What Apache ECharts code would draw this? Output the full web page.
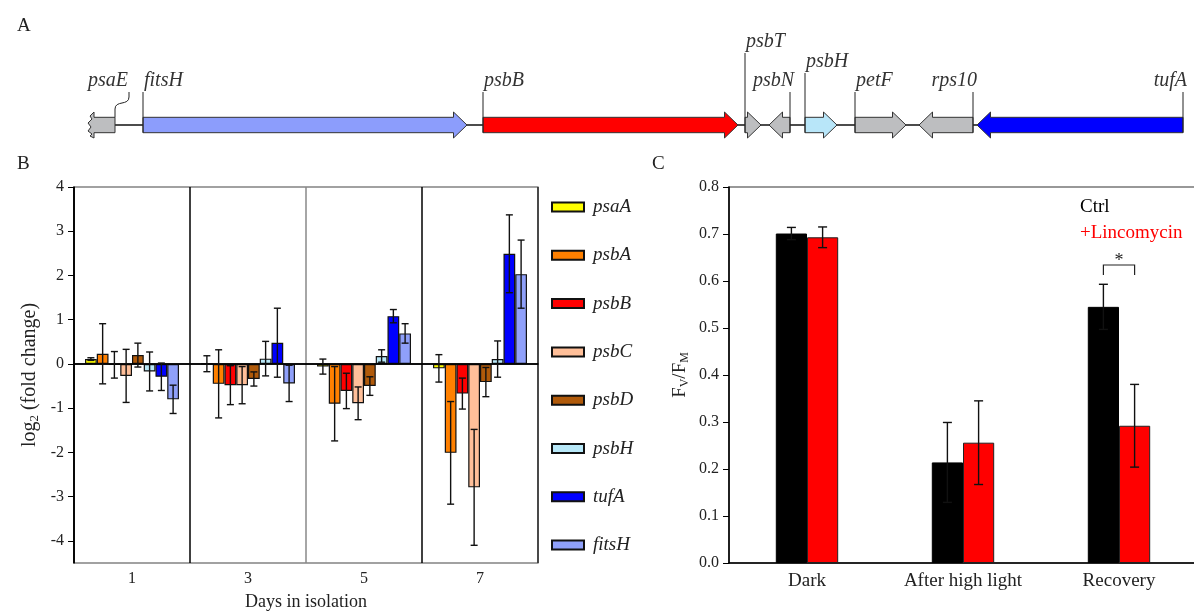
<!DOCTYPE html>
<html><head><meta charset="utf-8">
<script src="https://cdn.jsdelivr.net/npm/echarts@6/dist/echarts.min.js"></script>
<style>html,body{margin:0;padding:0;background:#fff;}#c{width:1194px;height:611px;}</style>
</head><body><div id="c"></div>
<script>
// ---------- Panel A: gene map (arbitrary map units) ----------
const geneNames  = ['psaE','fitsH','psbB','psbT','psbN','psbH','petF','rps10','tufA'];
const geneLeft   = [88, 143, 483, 745, 769, 805, 855, 919, 977];
const geneRight  = [115, 467, 738, 761, 790, 837, 906, 973, 1183];
const geneStrand = [-1, 1, 1, 1, -1, 1, 1, -1, -1];
const truncatedGenes = ['psaE'];

// ---------- Panel B: log2 fold change ----------
const days = ['1','3','5','7'];
const genesB = ['psaA','psbA','psbB','psbC','psbD','psbH','tufA','fitsH'];
const psaA  = [0.11, 0.005, -0.06, -0.10];  const psaA_err  = [0.03, 0.18, 0.17, 0.31];
const psbA  = [0.23, -0.45, -0.90, -2.01];  const psbA_err  = [0.68, 0.77, 0.84, 1.16];
const psbB  = [-0.02, -0.48, -0.61, -0.67]; const psbB_err  = [0.30, 0.44, 0.40, 0.35];
const psbC  = [-0.27, -0.48, -0.89, -2.79]; const psbC_err  = [0.60, 0.42, 0.37, 1.31];
const psbD  = [0.20, -0.34, -0.50, -0.41];  const psbD_err  = [0.27, 0.16, 0.21, 0.33];
const psbH  = [-0.17, 0.12, 0.18, 0.11];    const psbH_err  = [0.44, 0.39, 0.14, 0.41];
const tufA  = [-0.29, 0.48, 1.08, 2.49];    const tufA_err  = [0.31, 0.78, 0.15, 0.88];
const fitsH = [-0.80, -0.44, 0.69, 2.03];   const fitsH_err = [0.32, 0.41, 0.22, 0.77];
const yTicksB = [-4,-3,-2,-1,0,1,2,3,4];

// ---------- Panel C: Fv/Fm ----------
const conditions = ['Dark','After high light','Recovery'];
const ctrl = [0.701, 0.214, 0.545];  const ctrlErr = [0.013, 0.085, 0.048];
const linco = [0.693, 0.256, 0.292]; const lincoErr = [0.022, 0.089, 0.088];
const sigCategory = 2; const sigLevel = 0.634; const sigLabel = '*';

// ---------- styles ----------
const FF = '"Liberation Serif","Times New Roman",serif';
const geneColors = {psaE:'#bdbec0', fitsH:'#8c9dfc', psbB:'#ff0000', psbT:'#bdbec0', psbN:'#bdbec0',
  psbH:'#b8e6f9', petF:'#bdbec0', rps10:'#bdbec0', tufA:'#0000ff'};
const geneLabelRow = {psbT:2, psbH:1};
const colorsB = {psaA:'#ffff00', psbA:'#ff8000', psbB:'#ff0000', psbC:'#ffbf99', psbD:'#b05a0a',
  psbH:'#b8e8f8', tufA:'#0000ff', fitsH:'#8fa0fa'};
const valsB = [psaA, psbA, psbB, psbC, psbD, psbH, tufA, fitsH];
const errsB = [psaA_err, psbA_err, psbB_err, psbC_err, psbD_err, psbH_err, tufA_err, fitsH_err];

const chart = echarts.init(document.getElementById('c'));

function renderGene(params, api) {
  const i = api.value(4);
  const name = geneNames[i];
  const x0 = api.coord([api.value(0), 0])[0];
  const x1 = api.coord([api.value(2), 0])[0];
  const y = api.coord([api.value(0), 0])[1];
  const strand = api.value(3);
  const b = 7.7, h = 13, hl = 13.5;
  let pts;
  const trunc = truncatedGenes.indexOf(name) >= 0;
  if (trunc) {
    const xw = x0 + 6;
    pts = [[x1,y-b],[xw,y-b],[xw,y-h],[xw-4,y-h+4],[xw-2,y-6],[xw-6,y-2],[xw-3,y+2],[xw-6,y+6],[xw-2,y+9],[xw-4,y+h-2],[xw,y+h],[xw,y+b],[x1,y+b]];
  } else if (strand > 0) {
    const xh = Math.max(x0, x1 - hl);
    pts = [[x0,y-b],[xh,y-b],[xh,y-h],[x1,y],[xh,y+h],[xh,y+b],[x0,y+b]];
  } else {
    const xh = Math.min(x1, x0 + hl);
    pts = [[x1,y-b],[xh,y-b],[xh,y-h],[x0,y],[xh,y+h],[xh,y+b],[x1,y+b]];
  }
  const row = geneLabelRow[name] || 0;
  const ly = y - [45, 64, 84][row];
  const children = [{type:'polygon', shape:{points:pts}, style:{fill:geneColors[name], stroke:'#333', lineWidth:1}}];
  let ax, align;
  if (trunc) {
    ax = x1 + 14; align = 'right';
    const t = ly + 12;
    children.push({type:'path', shape:{pathData:
      'M'+ax+' '+t+' L'+ax+' '+(t+5)+' C'+ax+' '+(t+14)+' '+x1+' '+(t+8)+' '+x1+' '+(t+17)+' L'+x1+' '+(y-b)},
      style:{fill:null, stroke:'#222', lineWidth:1}});
  } else {
    ax = strand > 0 ? x0 : x1; align = strand > 0 ? 'left' : 'right';
    children.push({type:'line', shape:{x1:ax, y1:ly+12, x2:ax, y2:y+b}, style:{stroke:'#222', lineWidth:1}});
  }
  children.push({type:'text', style:{text:name, x: align==='left'? ax+1 : (trunc ? ax-1 : ax+4), y:ly+1, textAlign:align, textVerticalAlign:'middle',
    font:'italic 20px "Liberation Serif"', fill:'#333'}});
  return {type:'group', children};
}

function errGroup(cx, top, bot, cw) {
  const st = {stroke:'#111', lineWidth:1.4};
  return {type:'group', children:[
    {type:'line', shape:{x1:cx, y1:top, x2:cx, y2:bot}, style:st},
    {type:'line', shape:{x1:cx-cw, y1:top, x2:cx+cw, y2:top}, style:st},
    {type:'line', shape:{x1:cx-cw, y1:bot, x2:cx+cw, y2:bot}, style:st}]};
}
function renderErrB(params, api) {
  const band = api.size([1,0])[0];
  const bw = band * 0.81 / 8;
  const c = api.coord([api.value(0), api.value(1)]);
  const cx = c[0] + (-4 + api.value(3) + 0.5) * bw;
  const top = api.coord([api.value(0), api.value(1) + api.value(2)])[1];
  const bot = api.coord([api.value(0), api.value(1) - api.value(2)])[1];
  return errGroup(cx, top, bot, 3.5);
}
function renderErrC(params, api) {
  const band = api.size([1,0])[0];
  const bw = band * 0.2;
  const c = api.coord([api.value(0), api.value(1)]);
  const cx = c[0] + (api.value(3) - 0.5) * bw;
  const top = api.coord([api.value(0), api.value(1) + api.value(2)])[1];
  const bot = api.coord([api.value(0), api.value(1) - api.value(2)])[1];
  return errGroup(cx, top, bot, 4.5);
}
function renderSig(params, api) {
  const band = api.size([1,0])[0];
  const bw = band * 0.2;
  const c = api.coord([api.value(0), api.value(1)]);
  const xa = c[0] - bw/2, xb = c[0] + bw/2, y = c[1];
  const st = {stroke:'#222', lineWidth:1.2, fill:null};
  return {type:'group', children:[
    {type:'polyline', shape:{points:[[xa,y+10],[xa,y],[xb,y],[xb,y+10]]}, style:st},
    {type:'text', style:{text:sigLabel, x:c[0], y:y-13, textAlign:'center', textVerticalAlign:'top',
      font:'18px "Liberation Serif"', fill:'#222'}}]};
}

const geneData = geneNames.map((n,i) => [geneLeft[i], 0, geneRight[i], geneStrand[i], i]);
const bbStart = Math.min(...geneRight), bbEnd = Math.max(...geneLeft);
const errDataB = [];
genesB.forEach((g,i) => days.forEach((d,j) => errDataB.push([j, valsB[i][j], errsB[i][j], i])));
const errDataC = [];
conditions.forEach((c,j) => { errDataC.push([j, ctrl[j], ctrlErr[j], 0]); errDataC.push([j, linco[j], lincoErr[j], 1]); });

const barSeriesB = genesB.map((g,i) => ({
  name:g, type:'bar', xAxisIndex:1, yAxisIndex:1, data:valsB[i], barGap:'0%', barCategoryGap:'19%',
  itemStyle:{color:colorsB[g], borderColor:'#111', borderWidth:1.2},
  markLine: i===0 ? {silent:true, symbol:'none', label:{show:false}, lineStyle:{color:'#000', width:1.5, type:'solid'}, data:[{yAxis:0}]} : undefined
}));

const txt = {fontFamily:FF, color:'#222'};
const option = {
  animation:false,
  title:[
    {text:'A', left:12, top:12, textStyle:{fontFamily:FF, fontSize:19, fontWeight:'normal', color:'#222'}},
    {text:'B', left:12, top:150, textStyle:{fontFamily:FF, fontSize:19, fontWeight:'normal', color:'#222'}},
    {text:'C', left:647, top:150, textStyle:{fontFamily:FF, fontSize:19, fontWeight:'normal', color:'#222'}}
  ],
  legend:[
    {data:genesB, orient:'vertical', left:546, top:192, itemWidth:32, itemHeight:9, itemGap:28.3, icon:'rect',
     selectedMode:false, textStyle:{fontFamily:FF, fontStyle:'italic', fontSize:19, color:'#222', lineHeight:20, padding:[0,0,0,4]}},
    {data:[{name:'Ctrl', textStyle:{color:'#000'}}, {name:'+Lincomycin', textStyle:{color:'#ff0000'}}],
     orient:'vertical', left:1070, top:192, icon:'none', itemWidth:0, itemHeight:10, itemGap:6, selectedMode:false,
     textStyle:{fontFamily:FF, fontSize:19, lineHeight:20}}
  ],
  grid:[
    {left:0, right:0, top:100, height:50, outerBoundsMode:'none', containLabel:false},
    {left:74, top:187, right:656, bottom:48, show:true, borderColor:'#444', borderWidth:1.2, outerBoundsMode:'none', containLabel:false},
    {left:729, top:187, right:-3, bottom:48, show:true, borderColor:'#333', borderWidth:1.2, outerBoundsMode:'none', containLabel:false}
  ],
  xAxis:[
    {gridIndex:0, type:'value', min:0, max:1194, show:false},
    {gridIndex:1, type:'category', data:days, axisLine:{lineStyle:{color:'#000', width:1.5}}, axisTick:{show:false},
     axisLabel:{...txt, fontSize:16, margin:8},
     splitLine:{show:true, lineStyle:{color:['#000','#000','#888','#000','#333'], width:1.5}},
     name:'Days in isolation', nameLocation:'middle', nameGap:30, nameTextStyle:{...txt, fontSize:18}},
    {gridIndex:2, type:'category', data:conditions, axisLine:{lineStyle:{color:'#000', width:1.5}}, axisTick:{show:false},
     axisLabel:{...txt, fontSize:19, margin:9}}
  ],
  yAxis:[
    {gridIndex:0, type:'value', min:-1, max:1, show:false},
    {gridIndex:1, type:'value', min:-4.5, max:4, axisLine:{show:true, lineStyle:{color:'#000', width:1.5}},
     axisTick:{show:true, length:6, customValues:yTicksB, lineStyle:{color:'#000'}},
     axisLabel:{...txt, fontSize:16, margin:10, customValues:yTicksB}, splitLine:{show:false},
     name:'{a|log}{s|2}{a| (fold change)}', nameLocation:'middle', nameRotate:90, nameGap:33,
     nameTextStyle:{...txt, rich:{a:{fontFamily:FF, fontSize:20, color:'#222', lineHeight:22},
       s:{fontFamily:FF, fontSize:13, color:'#222', lineHeight:12, padding:[10,0,0,0]}}}},
    {gridIndex:2, type:'value', min:0, max:0.8, interval:0.1, axisLine:{show:true, lineStyle:{color:'#000', width:1.5}},
     axisTick:{show:true, length:6, lineStyle:{color:'#000'}},
     axisLabel:{...txt, fontSize:16, margin:10, formatter:v => v.toFixed(1)}, splitLine:{show:false},
     name:'{a|F}{s|V}{a|/F}{s|M}', nameLocation:'middle', nameRotate:90, nameGap:38,
     nameTextStyle:{...txt, rich:{a:{fontFamily:FF, fontSize:19, color:'#222', lineHeight:22},
       s:{fontFamily:FF, fontSize:12, color:'#222', lineHeight:12, padding:[10,0,0,0]}}}}
  ],
  series:[
    {name:'backbone', type:'line', xAxisIndex:0, yAxisIndex:0, data:[[bbStart,0],[bbEnd,0]], symbol:'none', silent:true,
     lineStyle:{color:'#111', width:1.5}, z:1},
    {name:'geneMap', type:'custom', xAxisIndex:0, yAxisIndex:0, data:geneData, encode:{x:[0,2], y:1}, renderItem:renderGene, silent:true, z:2},
    ...barSeriesB,
    {name:'errB', type:'custom', xAxisIndex:1, yAxisIndex:1, data:errDataB, encode:{x:0, y:1}, renderItem:renderErrB, silent:true, z:5},
    {name:'Ctrl', type:'bar', xAxisIndex:2, yAxisIndex:2, data:ctrl, barGap:'0%', barCategoryGap:'60%',
     itemStyle:{color:'#000', borderColor:'#000', borderWidth:1}},
    {name:'+Lincomycin', type:'bar', xAxisIndex:2, yAxisIndex:2, data:linco, barGap:'0%', barCategoryGap:'60%',
     itemStyle:{color:'#ff0000', borderColor:'#222', borderWidth:1}},
    {name:'errC', type:'custom', xAxisIndex:2, yAxisIndex:2, data:errDataC, encode:{x:0, y:1}, renderItem:renderErrC, silent:true, z:5},
    {name:'sig', type:'custom', xAxisIndex:2, yAxisIndex:2, data:[[sigCategory, sigLevel]], encode:{x:0, y:1}, renderItem:renderSig, silent:true, z:5}
  ]
};
chart.setOption(option);
</script></body></html>
